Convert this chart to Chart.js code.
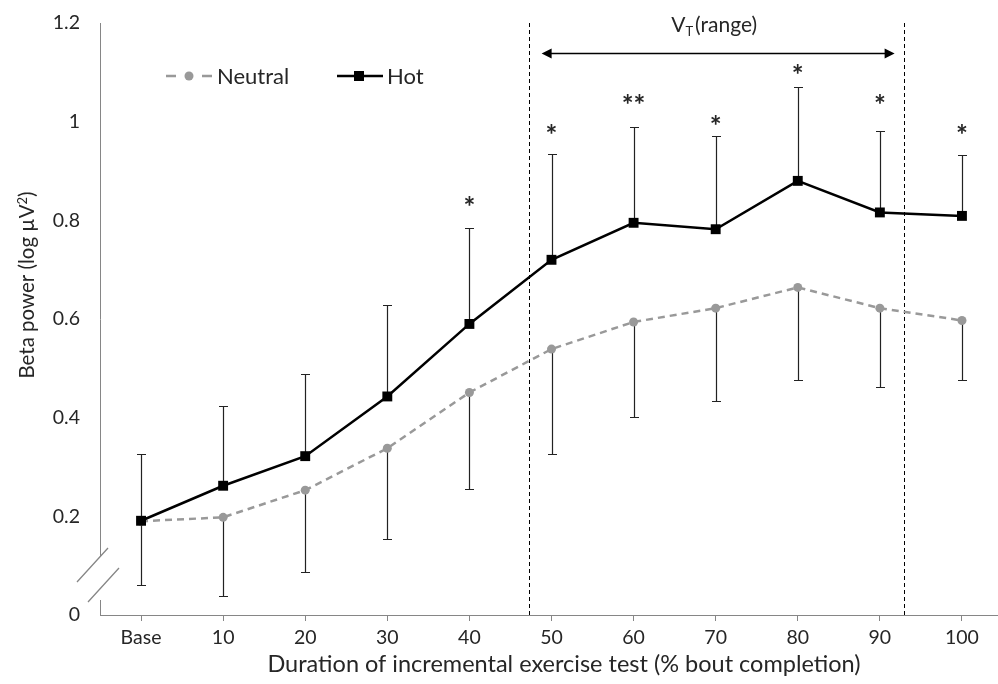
<!DOCTYPE html>
<html>
<head>
<meta charset="utf-8">
<script src="https://cdn.jsdelivr.net/npm/chart.js@4.4.1/dist/chart.umd.min.js"></script>
<style>
  html, body { margin: 0; padding: 0; background: #fff; overflow: hidden; }
  #wrap { width: 1010px; height: 684px; position: relative; }
</style>
</head>
<body>
<div id="wrap"><canvas id="chart"></canvas></div>
<script>
const labels = ["Base", "10", "20", "30", "40", "50", "60", "70", "80", "90", "100"];
const neutral = [0.190, 0.198, 0.253, 0.338, 0.451, 0.539, 0.594, 0.622, 0.664, 0.622, 0.597];
const neutralLow = [0.061, 0.039, 0.088, 0.155, 0.256, 0.326, 0.401, 0.433, 0.476, 0.462, 0.476];
const hot = [0.191, 0.262, 0.322, 0.443, 0.590, 0.720, 0.795, 0.782, 0.880, 0.816, 0.809];
const hotHigh = [0.326, 0.424, 0.489, 0.628, 0.785, 0.935, 0.989, 0.970, 1.071, 0.982, 0.932];
const stars = ["", "", "", "", "*", "*", "**", "*", "*", "*", "*"];
const starY = [null, null, null, null, 0.840, 0.986, 1.046, 1.003, 1.107, 1.046, 0.985];
const vtLines = [4.72, 9.29];     // dashed lines, in category units
const vtArrow = [4.88, 9.18];
const vtArrowY = 1.139;
const vtLabelY = 1.196;
const yMin = 0, yMax = 1.2, yStep = 0.2;

const FONT = "Lato, 'Open Sans', sans-serif";
const AXIS = "#868686";
const TEXT = "#262626";

// baseline that puts the glyph's ink centre on cy
function midBaseline(ctx, text, cy) {
  const m = ctx.measureText(text);
  return cy + (m.actualBoundingBoxAscent - m.actualBoundingBoxDescent) / 2;
}

const extras = {
  id: "extras",
  beforeDatasetsDraw(chart) {
    const { ctx, chartArea, scales: { x, y } } = chart;
    ctx.save();
    // error bars: hot upward, neutral downward
    ctx.strokeStyle = "#222";
    ctx.lineWidth = 1.2;
    labels.forEach((l, i) => {
      const px = Math.round(x.getPixelForValue(i)) + 0.5;
      [[hot[i], hotHigh[i]], [neutral[i], neutralLow[i]]].forEach(([a, b]) => {
        const y0 = y.getPixelForValue(a), y1 = Math.round(y.getPixelForValue(b)) + 0.5;
        ctx.beginPath();
        ctx.moveTo(px, y0); ctx.lineTo(px, y1);
        ctx.moveTo(px - 4.5, y1); ctx.lineTo(px + 4.5, y1);
        ctx.stroke();
      });
    });
    // V_T range dashed lines
    ctx.strokeStyle = "#000";
    ctx.lineWidth = 1;
    ctx.setLineDash([4, 3]);
    vtLines.forEach(v => {
      const px = Math.round(x.getPixelForValue(v)) + 0.5;
      ctx.beginPath();
      ctx.moveTo(px, chartArea.top);
      ctx.lineTo(px, chartArea.bottom);
      ctx.stroke();
    });
    ctx.restore();
  },
  afterDraw(chart) {
    const { ctx, chartArea, scales: { x, y } } = chart;
    ctx.save();
    ctx.fillStyle = TEXT;
    ctx.textBaseline = "alphabetic";

    // significance stars
    ctx.font = "bold 28px " + FONT;
    ctx.textAlign = "center";
    stars.forEach((s, i) => {
      if (!s) return;
      const cy = y.getPixelForValue(starY[i]);
      ctx.fillText(s, x.getPixelForValue(i), midBaseline(ctx, s, cy));
    });

    // arrow
    const ax0 = x.getPixelForValue(vtArrow[0]), ax1 = x.getPixelForValue(vtArrow[1]);
    const ay = Math.round(y.getPixelForValue(vtArrowY)) + 0.5;
    ctx.strokeStyle = "#000";
    ctx.fillStyle = "#000";
    ctx.lineWidth = 1.5;
    ctx.beginPath(); ctx.moveTo(ax0 + 6, ay); ctx.lineTo(ax1 - 6, ay); ctx.stroke();
    ctx.beginPath(); ctx.moveTo(ax0, ay); ctx.lineTo(ax0 + 10, ay - 5); ctx.lineTo(ax0 + 10, ay + 5); ctx.closePath(); ctx.fill();
    ctx.beginPath(); ctx.moveTo(ax1, ay); ctx.lineTo(ax1 - 10, ay - 5); ctx.lineTo(ax1 - 10, ay + 5); ctx.closePath(); ctx.fill();

    // V_T (range) label
    ctx.fillStyle = TEXT;
    ctx.textAlign = "left";
    const big = "21px " + FONT, small = "13px " + FONT;
    ctx.font = big;
    const wV = ctx.measureText("V").width, wR = ctx.measureText("(range)").width;
    const lb = midBaseline(ctx, "V", y.getPixelForValue(vtLabelY));
    ctx.font = small; const wT = ctx.measureText("T").width;
    const lx = (ax0 + ax1) / 2 - 4 - (wV + wT + 2 + wR) / 2;
    ctx.font = big; ctx.fillText("V", lx, lb);
    ctx.font = small; ctx.fillText("T", lx + wV, lb + 4);
    ctx.font = big; ctx.fillText("(range)", lx + wV + wT + 2, lb);

    // legend inside plot
    const lgY = 76;
    ctx.lineWidth = 2.5;
    ctx.strokeStyle = "#999";
    ctx.beginPath();
    ctx.moveTo(166, lgY); ctx.lineTo(176, lgY);
    ctx.moveTo(202, lgY); ctx.lineTo(212, lgY);
    ctx.stroke();
    ctx.fillStyle = "#999";
    ctx.beginPath(); ctx.arc(189, lgY, 4.5, 0, Math.PI * 2); ctx.fill();
    ctx.strokeStyle = "#000";
    ctx.beginPath(); ctx.moveTo(337, lgY); ctx.lineTo(383, lgY); ctx.stroke();
    ctx.fillStyle = "#000";
    ctx.fillRect(354, lgY - 5, 10, 10);
    ctx.fillStyle = TEXT;
    ctx.font = "22px " + FONT;
    ctx.fillText("Neutral", 217, midBaseline(ctx, "N", lgY));
    ctx.fillText("Hot", 387, midBaseline(ctx, "H", lgY));

    // axis break on y axis
    const bx = chartArea.left;
    ctx.fillStyle = "#fff";
    ctx.fillRect(bx - 2, 557, 4, 43);
    ctx.strokeStyle = AXIS;
    ctx.lineWidth = 1.3;
    ctx.beginPath();
    ctx.moveTo(bx - 23, 582); ctx.lineTo(bx + 8, 548);
    ctx.moveTo(bx - 12, 602); ctx.lineTo(bx + 19, 568);
    ctx.stroke();

    // axis titles
    ctx.fillStyle = TEXT;
    ctx.font = "23.5px " + FONT;
    ctx.textAlign = "center";
    ctx.fillText("Duration of incremental exercise test (% bout completion)", 564, midBaseline(ctx, "D", 663));

    ctx.translate(26, 285);
    ctx.rotate(-Math.PI / 2);
    const t1 = "Beta power (log \u00B5V", t3 = ")";
    const yf = "20.5px " + FONT, sf = "13px " + FONT;
    ctx.font = yf;
    const w1 = ctx.measureText(t1).width, w3 = ctx.measureText(t3).width;
    const base = midBaseline(ctx, "B", 0);
    ctx.font = sf; const w2 = ctx.measureText("2").width;
    const sx = -(w1 + w2 + w3) / 2;
    ctx.textAlign = "left";
    ctx.font = yf; ctx.fillText(t1, sx, base);
    ctx.font = sf; ctx.fillText("2", sx + w1, base - 7);
    ctx.font = yf; ctx.fillText(t3, sx + w1 + w2, base);
    ctx.restore();
  }
};

const ctx = document.getElementById("chart").getContext("2d");
new Chart(ctx, {
  type: "line",
  data: {
    labels: labels,
    datasets: [
      {
        label: "Neutral",
        data: neutral,
        borderColor: "#999",
        backgroundColor: "#999",
        borderWidth: 2.5,
        borderDash: [7, 5],
        pointStyle: "circle",
        pointRadius: 4.5,
        pointBorderWidth: 0,
        tension: 0,
        order: 1
      },
      {
        label: "Hot",
        data: hot,
        borderColor: "#000",
        backgroundColor: "#000",
        borderWidth: 2.5,
        pointStyle: "rect",
        pointRadius: 7,
        pointBorderWidth: 0,
        tension: 0,
        order: 0
      }
    ]
  },
  options: {
    responsive: true,
    maintainAspectRatio: false,
    animation: false,
    layout: { padding: { top: 23, right: 0, left: 0, bottom: 0 } },
    plugins: { legend: { display: false }, tooltip: { enabled: false } },
    scales: {
      x: {
        offset: true,
        grid: { display: true, drawOnChartArea: false, drawTicks: true, tickLength: 6, color: AXIS, offset: false },
        border: { display: true, color: AXIS, width: 1 },
        ticks: { color: TEXT, font: { family: FONT, size: 19.5 }, padding: 5, maxRotation: 0, autoSkip: false },
        afterFit(scale) { scale.height = 69; }
      },
      y: {
        min: yMin,
        max: yMax,
        grid: { display: false, drawTicks: false },
        border: { display: true, color: AXIS, width: 1 },
        ticks: {
          stepSize: yStep,
          color: TEXT,
          font: { family: FONT, size: 19.5 },
          padding: 20,
          callback: v => String(+v.toFixed(1))
        },
        afterFit(scale) {
          scale.width = 100;
          scale.paddingTop = 0;
          scale.paddingBottom = 0;
        }
      }
    }
  },
  plugins: [extras]
});
</script>
</body>
</html>
